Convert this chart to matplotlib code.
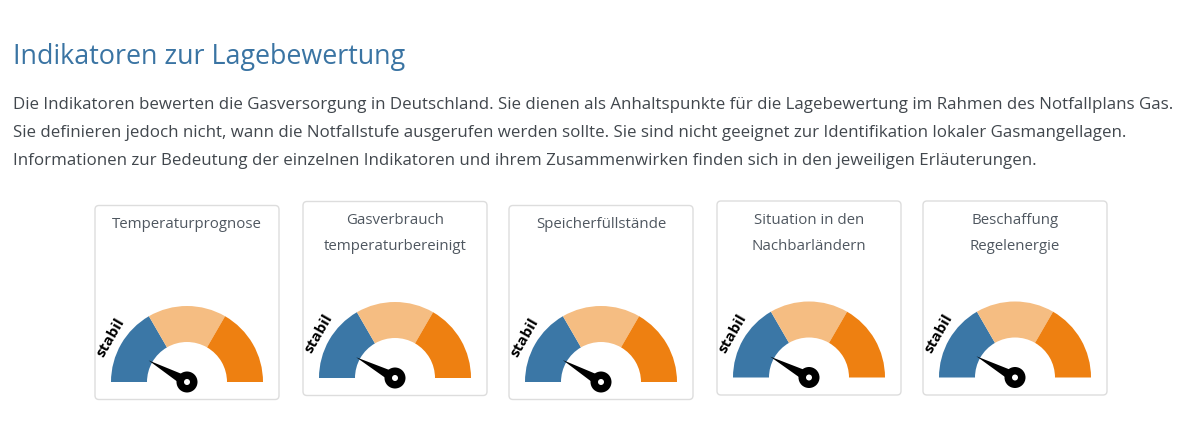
import numpy as np
import matplotlib
matplotlib.use('Agg')
import matplotlib.pyplot as plt
from matplotlib.patches import Wedge, Circle, Polygon, FancyBboxPatch

plt.rcParams['font.family'] = ['Open Sans', 'DejaVu Sans']

# ---------------- data ----------------
title = 'Indikatoren zur Lagebewertung'
intro_lines = [
    'Die Indikatoren bewerten die Gasversorgung in Deutschland. Sie dienen als '
    'Anhaltspunkte für die Lagebewertung im Rahmen des Notfallplans Gas.',
    'Sie definieren jedoch nicht, wann die Notfallstufe ausgerufen werden sollte. '
    'Sie sind nicht geeignet zur Identifikation lokaler Gasmangellagen.',
    'Informationen zur Bedeutung der einzelnen Indikatoren und ihrem '
    'Zusammenwirken finden sich in den jeweiligen Erläuterungen.',
]
indicators = ['Temperaturprognose',
              'Gasverbrauch\ntemperaturbereinigt',
              'Speicherfüllstände',
              'Situation in den\nNachbarländern',
              'Beschaffung\nRegelenergie']
status_labels = ['stabil', 'stabil', 'stabil', 'stabil', 'stabil']
needle_values = [16.3, 15.6, 16.6, 15.7, 16.0]   # position on a 0..100 scale
zone_edges = [0, 33.3, 66.7, 100]
zone_colors = ['#3b77a6', '#f5bd82', '#ee8011']

# ---------------- layout ----------------
W, H = 1200, 437
card_left = [95, 303, 509, 717, 923]
card_top = [205.5, 201.5, 205.5, 201, 201]
card_w, card_h = 184, 194
r_out, r_in = 76, 40

fig = plt.figure(figsize=(W / 100, H / 100), dpi=100)
ax = fig.add_axes([0, 0, 1, 1])
ax.set_xlim(0, W)
ax.set_ylim(H, 0)
ax.axis('off')

ax.text(13, 64, title, fontsize=19.4, color='#3a74a3', va='baseline')
for k, line in enumerate(intro_lines):
    ax.text(13, 109 + 28 * k, line, fontsize=12.2, color='#41474d',
            va='baseline')


def val2ang(v):
    return 180 - 180 * v / 100


for i, name in enumerate(indicators):
    x0, y0 = card_left[i], card_top[i]
    ax.add_patch(FancyBboxPatch((x0, y0), card_w, card_h,
                                boxstyle='round,pad=0,rounding_size=4',
                                fc='white', ec='#dddddd', lw=1))
    for j, ln in enumerate(name.split('\n')):
        ax.text(x0 + card_w / 2, y0 + 23 + 25.5 * j, ln, fontsize=10.8,
                color='#4f5760', ha='center', va='baseline')

    cx, cy = x0 + card_w / 2, y0 + 176.5
    # y axis is inverted, so negative angles keep the gauge on top
    for a, b, c in zip(zone_edges[:-1], zone_edges[1:], zone_colors):
        ax.add_patch(Wedge((cx, cy), r_out, -val2ang(a), -val2ang(b),
                           width=r_out - r_in, fc=c, ec='none'))

    t = np.deg2rad(val2ang(needle_values[i]))
    L, hw = 44, 5.5
    tip = (cx + L * np.cos(t), cy - L * np.sin(t))
    p1 = (cx - hw * np.sin(t), cy - hw * np.cos(t))
    p2 = (cx + hw * np.sin(t), cy + hw * np.cos(t))
    ax.add_patch(Polygon([tip, p1, p2], closed=True, fc='black', ec='none'))
    ax.add_patch(Circle((cx, cy), 10.5, fc='black', ec='none'))
    ax.add_patch(Circle((cx, cy), 3, fc='white', ec='none'))

    la = np.deg2rad(150)
    ax.text(cx + 88 * np.cos(la), cy - 88 * np.sin(la), status_labels[i],
            rotation=60, rotation_mode='anchor', ha='center', va='center',
            fontsize=11, fontweight='bold', color='black')

fig.savefig('out.png', dpi=100, facecolor='white')
